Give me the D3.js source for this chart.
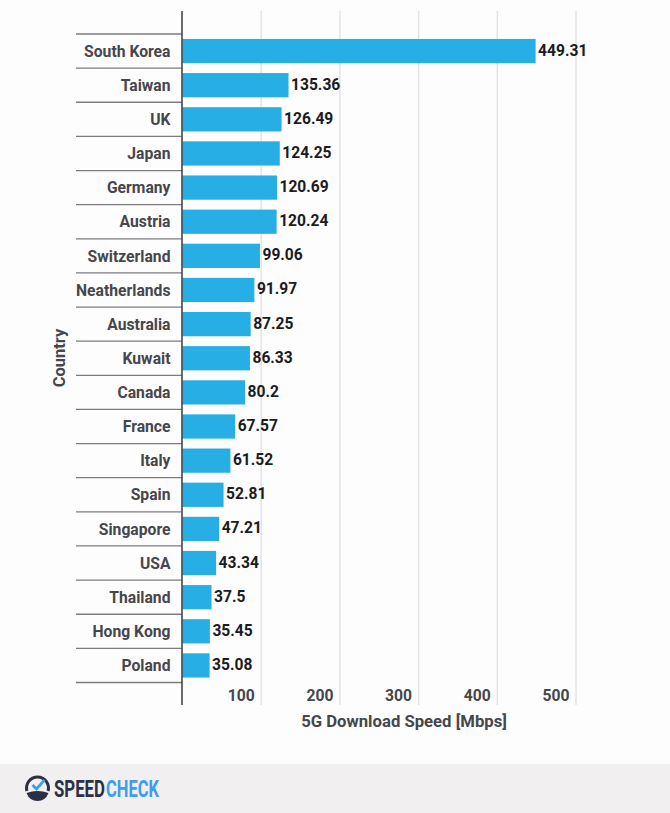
<!DOCTYPE html>
<html>
<head>
<meta charset="utf-8">
<script src="https://cdnjs.cloudflare.com/ajax/libs/d3/7.8.5/d3.min.js"></script>
<style>
  html, body { margin: 0; padding: 0; background: #fdfdfd; }
  text { font-family: Roboto, sans-serif; font-weight: 700; }
  .axis .domain { display: none; }
  .axis text { font-size: 15.7px; fill: #46464c; }
</style>
</head>
<body>
<div id="chart"></div>
<script>
// chart values
var countries = ["South Korea", "Taiwan", "UK", "Japan", "Germany", "Austria", "Switzerland",
  "Neatherlands", "Australia", "Kuwait", "Canada", "France", "Italy", "Spain", "Singapore",
  "USA", "Thailand", "Hong Kong", "Poland"];
var speeds = [449.31, 135.36, 126.49, 124.25, 120.69, 120.24, 99.06, 91.97, 87.25, 86.33,
  80.2, 67.57, 61.52, 52.81, 47.21, 43.34, 37.5, 35.45, 35.08];
var speedTicks = [100, 200, 300, 400, 500];

var svgWidth = 670;
var svgHeight = 813;

var svg = d3.select("#chart")
  .append("svg")
  .attr("width", svgWidth)
  .attr("height", svgHeight)
  .style("display", "block");

var xScale = d3.scaleLinear().domain([0, 500]).range([182, 575.5]);
var yScale = d3.scaleBand().domain(countries).range([34, 682.5]).paddingInner(0.29).paddingOuter(0.145);
var rowTop = c => yScale(c) - yScale.step() * yScale.paddingInner() / 2;

// vertical grid lines and value ticks
var xAxis = d3.axisBottom(xScale).tickValues(speedTicks).tickSize(0).tickPadding(0);
var xGroup = svg.append("g").attr("class", "axis").attr("transform", "translate(0,11)").call(xAxis);
xGroup.selectAll("line")
  .attr("y1", 0).attr("y2", 694)
  .attr("stroke", "#e2e2e2").attr("stroke-width", 1.4);
xGroup.selectAll("text")
  .attr("text-anchor", "end")
  .attr("x", -6.5)
  .attr("y", 690)
  .attr("dy", 0);

// row separators
var separatorRows = countries.concat([null]);
svg.append("g").selectAll("line")
  .data(separatorRows)
  .enter()
  .append("line")
  .attr("x1", 76)
  .attr("x2", 182)
  .attr("y1", d => d ? rowTop(d) : yScale.range()[1])
  .attr("y2", d => d ? rowTop(d) : yScale.range()[1])
  .attr("stroke", "#7d7d80")
  .attr("stroke-width", 1.3);

// bars
svg.append("g").selectAll("rect")
  .data(countries)
  .enter()
  .append("rect")
  .attr("x", xScale(0))
  .attr("y", d => yScale(d))
  .attr("width", (d, i) => xScale(speeds[i]) - xScale(0))
  .attr("height", yScale.bandwidth())
  .attr("fill", "#27aee5");

// value labels
svg.append("g").selectAll("text")
  .data(countries)
  .enter()
  .append("text")
  .attr("x", (d, i) => xScale(speeds[i]) + 2.5)
  .attr("y", d => yScale(d) + yScale.bandwidth() / 2 + 4.5)
  .attr("font-size", "15.6px")
  .attr("fill", "#1b1b22")
  .text((d, i) => speeds[i]);

// country labels
var yAxis = d3.axisLeft(yScale).tickSize(0).tickPadding(11.5);
var yGroup = svg.append("g").attr("class", "axis").attr("transform", "translate(182,0)").call(yAxis);
yGroup.selectAll("text").attr("dy", "0.36em");

// main axis line
svg.append("line")
  .attr("x1", 182).attr("x2", 182)
  .attr("y1", 11).attr("y2", 705)
  .attr("stroke", "#47474c").attr("stroke-width", 1.6);

// axis titles
svg.append("text")
  .attr("x", 404).attr("y", 727)
  .attr("text-anchor", "middle")
  .attr("font-size", "16.7px")
  .attr("fill", "#46464c")
  .text("5G Download Speed [Mbps]");

svg.append("text")
  .attr("transform", "translate(65,358) rotate(-90)")
  .attr("text-anchor", "middle")
  .attr("font-size", "16.5px")
  .attr("fill", "#46464c")
  .text("Country");

// footer band with logo
svg.append("rect")
  .attr("x", 0).attr("y", 764)
  .attr("width", svgWidth).attr("height", 49)
  .attr("fill", "#f1eff0");

var logo = svg.append("g").attr("transform", "translate(37.5,788)");
logo.append("path")
  .attr("d", d3.arc().innerRadius(9.5).outerRadius(12.5).startAngle(-1.85).endAngle(1.85)())
  .attr("fill", "#2c3045");
logo.append("path")
  .attr("d", "M-11,5 Q0,1 11,5 Q8,13 0,13 Q-8,13 -11,5 Z")
  .attr("fill", "#2c3045");
logo.append("path")
  .attr("d", "M-5,-3 L-1,1 L7,-8")
  .attr("fill", "none")
  .attr("stroke", "#3f9cf0")
  .attr("stroke-width", 2.8);

// squeeze a wordmark piece to the wanted width
function wordmark(word, x, width, color) {
  var t = svg.append("text")
    .attr("font-size", "24px")
    .attr("fill", color)
    .text(word);
  var k = width / t.node().getComputedTextLength();
  t.attr("transform", `translate(${x},797) scale(${k},1)`);
}
wordmark("SPEED", 54, 51, "#2c3045");
wordmark("CHECK", 106, 53, "#3f9cf0");
</script>
</body>
</html>
